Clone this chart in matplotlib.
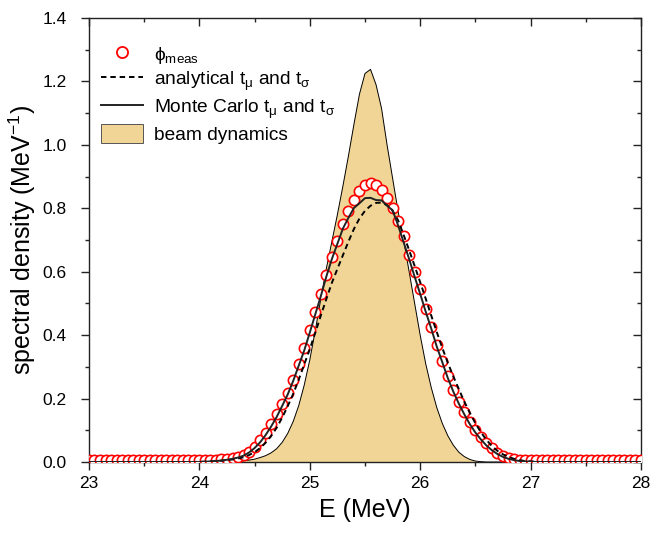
import numpy as np
import matplotlib
matplotlib.use("Agg")
import matplotlib.pyplot as plt
from matplotlib.patches import Patch
from matplotlib.lines import Line2D
from matplotlib.ticker import FormatStrFormatter

plt.rcParams['font.family'] = ['Liberation Sans', 'DejaVu Sans']
plt.rcParams['mathtext.fontset'] = 'custom'
plt.rcParams['mathtext.rm'] = 'Liberation Sans'
plt.rcParams['mathtext.it'] = 'Liberation Sans:italic'

# energy grid (MeV), 0.05 MeV bins
energy = np.linspace(23.0, 28.0, 101)

# measured spectrum
phi_meas = [
    0.006, 0.006, 0.006, 0.006, 0.006, 0.006, 0.006, 0.006, 0.006, 0.006,
    0.006, 0.006, 0.006, 0.006, 0.006, 0.006, 0.006, 0.006, 0.006, 0.006,
    0.006, 0.006, 0.007, 0.007, 0.008, 0.010,
    0.012, 0.015, 0.022, 0.033, 0.048, 0.070, 0.093, 0.120, 0.150, 0.182,
    0.217, 0.258, 0.310, 0.359, 0.415, 0.473, 0.531, 0.589, 0.647, 0.696,
    0.749, 0.791, 0.826, 0.854, 0.872, 0.879, 0.875, 0.858, 0.833, 0.800,
    0.760, 0.712, 0.654, 0.600, 0.545, 0.483, 0.426, 0.370, 0.317, 0.270,
    0.227, 0.190, 0.159, 0.127, 0.101, 0.078, 0.059, 0.043, 0.029, 0.019,
    0.012, 0.008,
    0.007, 0.006, 0.006, 0.006, 0.006, 0.006, 0.006, 0.006, 0.006, 0.006,
    0.006, 0.006, 0.006, 0.006, 0.006, 0.006, 0.006, 0.006, 0.006, 0.006,
    0.006, 0.006, 0.006,
]

# analytical t_mu and t_sigma
analytical = [
    0, 0, 0, 0, 0, 0, 0, 0, 0, 0, 0, 0, 0, 0, 0, 0, 0, 0, 0, 0,
    0.001, 0.001, 0.002, 0.003, 0.004, 0.006, 0.008, 0.011, 0.015, 0.022,
    0.031, 0.044, 0.061, 0.082, 0.108, 0.140, 0.176, 0.215, 0.260, 0.308,
    0.356, 0.408, 0.462, 0.514, 0.565, 0.609, 0.652, 0.695, 0.735, 0.768,
    0.792, 0.808, 0.817, 0.818, 0.810, 0.792, 0.762, 0.716, 0.668, 0.618,
    0.567, 0.515, 0.462, 0.410, 0.360, 0.313, 0.270, 0.230, 0.190, 0.155,
    0.122, 0.094, 0.070, 0.050, 0.035, 0.024, 0.016, 0.010, 0.006, 0.003,
    0.002, 0.001, 0.000,
    0, 0, 0, 0, 0, 0, 0, 0, 0, 0, 0, 0, 0, 0, 0, 0, 0, 0,
]

# Monte Carlo t_mu and t_sigma
monte_carlo = [
    0, 0, 0, 0, 0, 0, 0, 0, 0, 0, 0, 0, 0, 0, 0, 0, 0, 0, 0, 0,
    0.000, 0.001, 0.002, 0.003, 0.005, 0.007, 0.010, 0.014, 0.020, 0.030,
    0.044, 0.062, 0.085, 0.112, 0.142, 0.177, 0.213, 0.256, 0.304, 0.352,
    0.408, 0.466, 0.523, 0.585, 0.640, 0.688, 0.736, 0.770, 0.801, 0.816,
    0.832, 0.833, 0.826, 0.825, 0.808, 0.794, 0.746, 0.693, 0.640, 0.584,
    0.530, 0.474, 0.421, 0.364, 0.315, 0.265, 0.222, 0.184, 0.150, 0.119,
    0.093, 0.071, 0.052, 0.037, 0.025, 0.016, 0.010, 0.006, 0.003, 0.002,
    0.001, 0.000,
    0, 0, 0, 0, 0, 0, 0, 0, 0, 0, 0, 0, 0, 0, 0, 0, 0, 0, 0,
]

# beam dynamics spectrum
beam_dynamics = [
    0, 0, 0, 0, 0, 0, 0, 0, 0, 0, 0, 0, 0, 0, 0, 0, 0, 0, 0, 0, 0, 0, 0, 0,
    0.000, 0.001, 0.002, 0.003, 0.004, 0.006, 0.009, 0.014, 0.020, 0.029,
    0.042, 0.062, 0.090, 0.128, 0.178, 0.243, 0.322, 0.415, 0.515, 0.610,
    0.695, 0.780, 0.870, 0.965, 1.065, 1.160, 1.225, 1.238, 1.190, 1.115,
    1.000, 0.895, 0.790, 0.700, 0.600, 0.500, 0.400, 0.310, 0.235, 0.172,
    0.122, 0.083, 0.053, 0.031, 0.017, 0.008, 0.003, 0.001, 0.000, 0.000,
    0, 0, 0, 0, 0, 0, 0, 0, 0, 0, 0, 0, 0, 0, 0, 0, 0, 0, 0, 0, 0, 0, 0, 0, 0, 0, 0,
]

fill_color = '#F0D596'
axis_color = '#222222'

fig = plt.figure(figsize=(6.65, 5.33), dpi=100)
ax = fig.add_axes([0.1338, 0.1332, 0.8301, 0.8330])

ax.fill_between(energy, beam_dynamics, 0, facecolor=fill_color,
                edgecolor='none', zorder=1)
ax.plot(energy, beam_dynamics, color='black', lw=0.7, zorder=2)
ax.plot(energy, phi_meas, linestyle='none', marker='o', ms=7.4,
        mfc='white', mec='#FF0000', mew=1.2, zorder=3)
ax.plot(energy, analytical, color='black', lw=1.4,
        linestyle=(0, (2.8, 2.0)), zorder=4)
ax.plot(energy, monte_carlo, color=axis_color, lw=1.4, zorder=5)

ax.set_xlim(23, 28)
ax.set_ylim(0, 1.4)
xmaj = np.arange(23, 28.1, 1)
xmin = np.arange(23.5, 28, 1)
ymaj = np.arange(0, 1.41, 0.2)
ymin = np.arange(0.1, 1.4, 0.2)
ax.set_xticks(xmaj)
ax.set_xticks(xmin, minor=True)
ax.set_yticks(ymaj)
ax.set_yticks(ymin, minor=True)
ax.yaxis.set_major_formatter(FormatStrFormatter('%.1f'))

for side in ['left', 'bottom', 'top', 'right']:
    ax.spines[side].set_linewidth(1.0)
    ax.spines[side].set_color(axis_color)

ax.tick_params(which='both', direction='out', top=False, right=False,
               color=axis_color, width=1.0, labelsize=12.5)
ax.tick_params(which='major', length=6)
ax.tick_params(which='minor', length=3)
ax.tick_params(axis='x', which='major', pad=4)
ax.tick_params(axis='y', which='major', pad=10)

# mirrored inward ticks on top and right
axt = ax.secondary_xaxis('top')
axt.set_xticks(xmaj)
axt.set_xticks(xmin, minor=True)
axt.tick_params(which='both', direction='in', labeltop=False,
                color=axis_color, width=1.0)
axt.tick_params(which='major', length=6)
axt.tick_params(which='minor', length=3)
axt.spines['top'].set_visible(False)
axr = ax.secondary_yaxis('right')
axr.set_yticks(ymaj)
axr.set_yticks(ymin, minor=True)
axr.tick_params(which='both', direction='in', labelright=False,
                color=axis_color, width=1.0)
axr.tick_params(which='major', length=6)
axr.tick_params(which='minor', length=3)
axr.spines['right'].set_visible(False)

ax.set_xlabel('E (MeV)', fontsize=18)
ax.set_ylabel('spectral density (MeV$^{\\mathregular{-1}}$)', fontsize=18)
ax.xaxis.set_label_coords(0.5, -0.08)
ax.yaxis.set_label_coords(-0.092, 0.5)

handles = [
    Line2D([], [], linestyle='none', marker='o', ms=8, mfc='white',
           mec='#FF0000', mew=1.3),
    Line2D([], [], color='black', lw=1.4, linestyle=(0, (2.8, 2.0))),
    Line2D([], [], color=axis_color, lw=1.4),
    Patch(facecolor=fill_color, edgecolor='#555555', lw=0.7),
]
labels = [
    '\u03d5$_{\\mathregular{meas}}$',
    'analytical t$_{\\mathregular{\u03bc}}$ and t$_{\\mathregular{\u03c3}}$',
    'Monte Carlo t$_{\\mathregular{\u03bc}}$ and t$_{\\mathregular{\u03c3}}$',
    'beam dynamics',
]
ax.legend(handles, labels, loc='upper left', bbox_to_anchor=(-0.013, 0.985),
          frameon=False, fontsize=13.8, handlelength=2.2, handleheight=1.1,
          labelspacing=0.2, handletextpad=0.55, borderaxespad=0.6)

fig.savefig('out.png', dpi=100)
